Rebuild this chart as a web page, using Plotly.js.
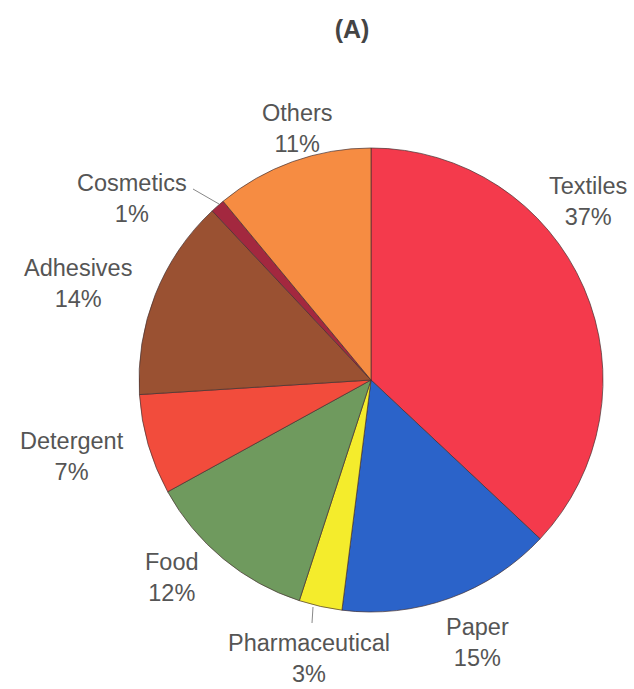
<!DOCTYPE html>
<html>
<head>
<meta charset="utf-8">
<script src="https://cdn.plot.ly/plotly-3.0.1.min.js"></script>
<style>html,body{margin:0;padding:0;background:#fff;}#chart{width:634px;height:689px;}</style>
</head>
<body>
<div id="chart"></div>
<script>
const categories = ['Textiles', 'Paper', 'Pharmaceutical', 'Food', 'Detergent', 'Adhesives', 'Cosmetics', 'Others'];
const shares = [37, 15, 3, 12, 7, 14, 1, 11];
const sliceColors = ['#f43a4c', '#2b63c9', '#f4ec2c', '#6f9a5e', '#f24c3c', '#9a5132', '#a3283f', '#f68c42'];

// label centres in pixels (x, y) within the 634x689 page
const labelPx = {
  Textiles: [588, 202],
  Paper: [477, 642],
  Pharmaceutical: [309, 658],
  Food: [172, 577],
  Detergent: [72, 456],
  Adhesives: [78, 283],
  Cosmetics: [132, 198],
  Others: [297, 128]
};
const W = 634, H = 689;
const textColor = '#555555';

const annotations = categories.map((c, i) => ({
  xref: 'paper', yref: 'paper',
  x: labelPx[c][0] / W, y: 1 - labelPx[c][1] / H,
  xanchor: 'center', yanchor: 'middle',
  text: c + '<br>' + shares[i] + '%',
  showarrow: false,
  font: {family: 'Liberation Sans, Arial, sans-serif', size: 23.5, color: textColor}
}));

const leaders = [
  [[193, 189], [219, 204]],
  [[312, 623], [313, 607]]
].map(seg => ({
  type: 'line', xref: 'paper', yref: 'paper',
  x0: seg[0][0] / W, y0: 1 - seg[0][1] / H,
  x1: seg[1][0] / W, y1: 1 - seg[1][1] / H,
  line: {color: '#888888', width: 1}
}));

const cx = 371, cy = 380, r = 232;
const trace = {
  type: 'pie',
  labels: categories,
  values: shares,
  sort: false,
  direction: 'clockwise',
  rotation: 0,
  textinfo: 'none',
  hoverinfo: 'label+percent',
  marker: {colors: sliceColors, line: {color: 'rgba(70,50,50,0.7)', width: 1}},
  domain: {x: [(cx - r) / W, (cx + r) / W], y: [1 - (cy + r) / H, 1 - (cy - r) / H]},
  showlegend: false
};

const layout = {
  width: W, height: H,
  margin: {l: 0, r: 0, t: 0, b: 0},
  paper_bgcolor: '#ffffff',
  title: {text: '<b>(A)</b>', x: 352 / W, xanchor: 'center', y: 1 - 29 / H, yanchor: 'middle',
          font: {family: 'Liberation Sans, Arial, sans-serif', size: 25, color: '#444444'}},
  annotations: annotations,
  shapes: leaders,
  showlegend: false
};

Plotly.newPlot('chart', [trace], layout, {displayModeBar: false, staticPlot: true});
</script>
</body>
</html>
